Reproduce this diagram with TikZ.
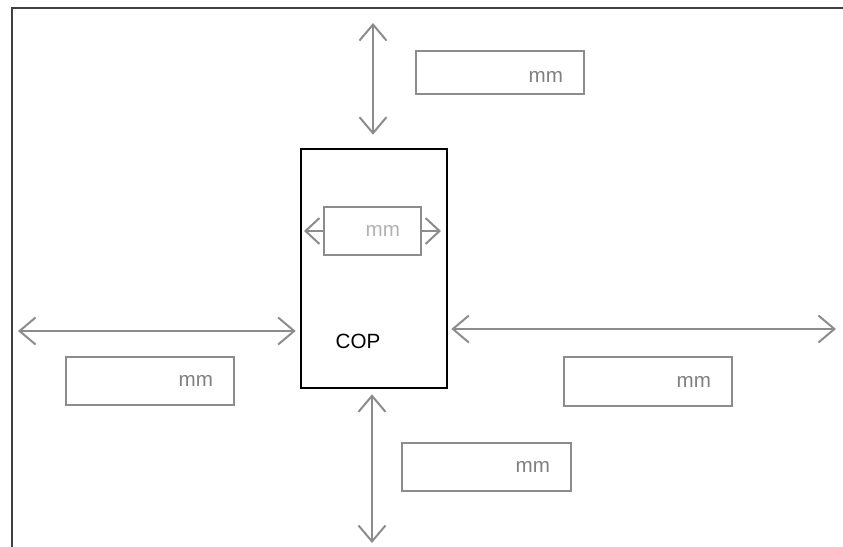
\documentclass[tikz,border=0pt]{standalone}
\usepackage{fontspec}
\setmainfont{Liberation Sans}
\usetikzlibrary{arrows.meta}

\begin{document}
\begin{tikzpicture}[x=0.5pt,y=-0.5pt,
    font=\fontsize{10.3}{12}\selectfont,
    dimline/.style={draw=gray!90!white,line width=1pt,{Straight Barb[length=8pt,width=13.5pt]}-{Straight Barb[length=8pt,width=13.5pt]}},
    halfline/.style={draw=gray!90!white,line width=1pt,-{Straight Barb[length=7pt,width=13pt]}},
    valbox/.style={draw=gray!90!white,line width=1pt,text=gray,align=right,text width=63pt,inner xsep=10.5pt,inner ysep=0pt,minimum height=24pt}]
      \useasboundingbox (0,0) rectangle (843,547);
      \clip (0,0) rectangle (843,547);
      \draw[line width=1.3pt,draw=black!75] (12,570) -- (12,8) -- (870,8);
      \node[draw,line width=1.3pt,minimum width=73pt,minimum height=119.5pt,inner sep=0pt] (cop) at (374,268.5) {};
      \node (coplabel) at (358,341) {COP};
      \node[valbox,text width=27.5pt,text=gray!60] (inner) at (372.5,231) {mm};
      \coordinate (innerL) at (304,231);
      \coordinate (innerR) at (441,231);
      \draw[halfline] (inner.west) -- (innerL);
      \draw[halfline] (inner.east) -- (innerR);
      \coordinate (topend) at (373,23);
      \coordinate (botend) at (372,543);
      \coordinate (leftend) at (18,331);
      \coordinate (rightend) at (836,329);
      \draw[dimline] (topend) -- ([xshift=-0.5pt,yshift=6.5pt]cop.north);
      \draw[dimline] ([xshift=-1pt,yshift=-2.5pt]cop.south) -- (botend);
      \draw[dimline] (leftend) -- ([xshift=-2pt]cop.west |- leftend);
      \draw[dimline] ([xshift=1.5pt]cop.east |- rightend) -- (rightend);
      \node[valbox,minimum height=21.5pt,text height=10pt,text depth=0pt] (topval) at (500,72.5) {mm};
      \node[valbox] (leftval) at (150,381) {mm};
      \node[valbox,minimum height=24.5pt] (rightval) at (648,381.5) {mm};
      \node[valbox,text width=63.5pt] (botval) at (486.5,467) {mm};
    \end{tikzpicture}
\end{document}
